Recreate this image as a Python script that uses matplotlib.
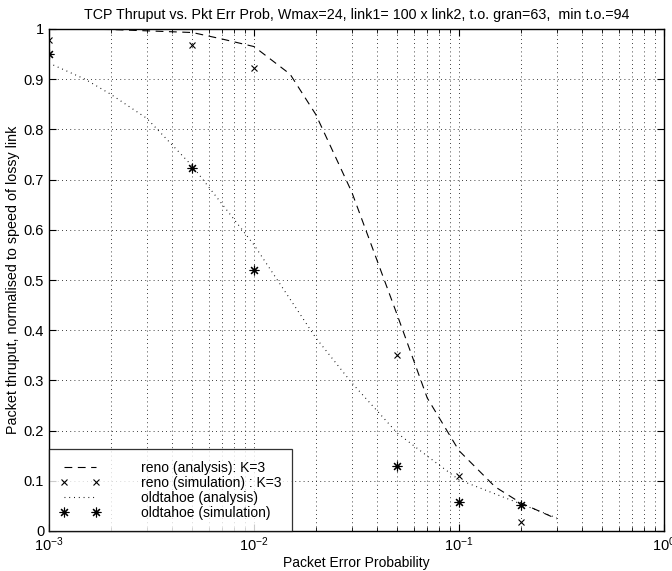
import matplotlib
matplotlib.use("Agg")
import matplotlib.pyplot as plt
from matplotlib.ticker import FixedLocator, FixedFormatter, LogLocator, NullFormatter

plt.rcParams['font.family'] = ['Liberation Sans', 'DejaVu Sans']
plt.rcParams['mathtext.fontset'] = 'custom'
plt.rcParams['mathtext.rm'] = 'Liberation Sans'

# data
reno_an_p = [0.001, 0.002, 0.005, 0.007, 0.01, 0.015, 0.02, 0.03, 0.05, 0.07, 0.1, 0.15, 0.2, 0.3]
reno_an_y = [1.0, 0.999, 0.993, 0.98, 0.965, 0.91, 0.83, 0.675, 0.43, 0.265, 0.16, 0.088, 0.056, 0.024]

reno_sim_p = [0.001, 0.005, 0.01, 0.05, 0.1, 0.2]
reno_sim_y = [0.978, 0.968, 0.922, 0.351, 0.11, 0.017]

old_an_p = [0.001, 0.0015, 0.002, 0.003, 0.005, 0.01, 0.02, 0.03, 0.05, 0.075, 0.1, 0.2, 0.3]
old_an_y = [0.932, 0.9, 0.87, 0.822, 0.727, 0.57, 0.385, 0.295, 0.195, 0.14, 0.102, 0.054, 0.026]

old_sim_p = [0.001, 0.005, 0.01, 0.05, 0.1, 0.2]
old_sim_y = [0.95, 0.724, 0.52, 0.129, 0.057, 0.052]

yticks = [0, 0.1, 0.2, 0.3, 0.4, 0.5, 0.6, 0.7, 0.8, 0.9, 1]
ytick_labels = ["0", "0.1", "0.2", "0.3", "0.4", "0.5", "0.6", "0.7", "0.8", "0.9", "1"]

fig = plt.figure(figsize=(6.72, 5.71), dpi=100)
ax = fig.add_axes([49/672, 40/571, 615/672, 502/571])

ast = (8, 2, 0)
ax.plot(reno_an_p, reno_an_y, color='black', lw=0.8, linestyle=(0, (7, 5)),
        label='reno (analysis): K=3')
ax.plot(reno_sim_p, reno_sim_y, color='black', lw=0, marker='x', ms=5, mew=0.8,
        label='reno (simulation) : K=3')
ax.plot(old_an_p, old_an_y, color='black', lw=0.8, linestyle=(0, (0.8, 3.5)),
        label='oldtahoe (analysis)')
ax.plot(old_sim_p, old_sim_y, color='black', lw=0, marker=ast, ms=7, mew=0.8,
        label='oldtahoe (simulation)')

ax.set_xscale('log')
ax.set_xlim(1e-3, 1)
ax.set_ylim(0, 1)
ax.yaxis.set_major_locator(FixedLocator(yticks))
ax.yaxis.set_major_formatter(FixedFormatter(ytick_labels))
ax.xaxis.set_major_locator(LogLocator(base=10, numticks=10))
ax.xaxis.set_minor_locator(LogLocator(base=10, subs=range(2, 10), numticks=20))
ax.xaxis.set_minor_formatter(NullFormatter())

ax.grid(True, which='major', axis='both', color='black', linestyle=(0, (1, 4)), lw=0.6)
ax.grid(True, which='minor', axis='x', color='black', linestyle=(0, (1, 4)), lw=0.6)

ax.tick_params(which='both', direction='in', top=True, right=True, labelsize=10.5)
ax.tick_params(which='major', length=5)
ax.tick_params(which='minor', length=3)
for s in ax.spines.values():
    s.set_linewidth(1.0)

ax.set_xlabel('Packet Error Probability', fontsize=10, labelpad=1)
ax.set_ylabel('Packet thruput, normalised to speed of lossy link', fontsize=10.3, labelpad=3)
ax.set_title('TCP Thruput vs. Pkt Err Prob, Wmax=24, link1= 100 x link2, t.o. gran=63,  min t.o.=94',
             fontsize=10.3, pad=7)

leg = ax.legend(loc='lower left', numpoints=2, fontsize=10, frameon=True, fancybox=False,
                edgecolor='black', borderaxespad=0.0, handlelength=2.9, handletextpad=2.9,
                labelspacing=0.08, borderpad=0.8)
leg.get_frame().set_linewidth(0.9)

fig.savefig('out.png', dpi=100)
